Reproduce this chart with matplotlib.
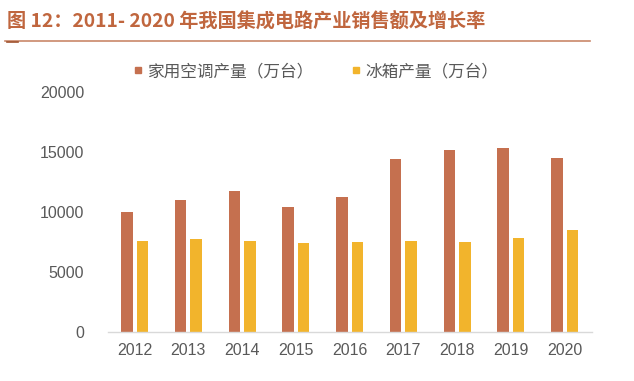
import numpy as np
from matplotlib import pyplot as plt
from matplotlib.lines import Line2D

years = ['2012', '2013', '2014', '2015', '2016', '2017', '2018', '2019', '2020']
aircon = [10000, 11000, 11780, 10420, 11230, 14450, 15150, 15350, 14510]
fridge = [7580, 7720, 7580, 7380, 7520, 7580, 7520, 7850, 8500]
series_names = ['家用空调产量（万台）', '冰箱产量（万台）']
title = '图 12：2011- 2020 年我国集成电路产业销售额及增长率'

c_ac = '#C5704F'
c_fr = '#F2B42C'
grey = '#595959'

plt.rcParams['font.family'] = ['Noto Sans CJK SC', 'DejaVu Sans']

fig = plt.figure(figsize=(6.34, 3.81), dpi=100)
ax = fig.add_axes([0.170, 0.129, 0.763, 0.629])

x = np.arange(len(years))
w = 0.215
ax.bar(x - 0.145, aircon, width=w, color=c_ac)
ax.bar(x + 0.145, fridge, width=w, color=c_fr)

ax.set_xlim(-0.5, len(years) - 0.5)
ax.set_ylim(0, 20000)
ax.set_yticks([0, 5000, 10000, 15000, 20000])
ax.set_xticks(x)
ax.set_xticklabels(years)
for lab in ax.get_xticklabels() + ax.get_yticklabels():
  lab.set_family(['Liberation Sans', 'DejaVu Sans'])
  lab.set_fontsize(11.5)
  lab.set_color(grey)
ax.tick_params(axis='both', length=0)
ax.tick_params(axis='y', pad=17)
ax.tick_params(axis='x', pad=8)
for s in ['top', 'right', 'left']:
  ax.spines[s].set_visible(False)
ax.spines['bottom'].set_color('#D9D9D9')
ax.spines['bottom'].set_linewidth(1.0)

handles = [Line2D([], [], marker='s', linestyle='none', color=c, markersize=5)
           for c in (c_ac, c_fr)]
leg = fig.legend(handles, series_names, loc='center', bbox_to_anchor=(0.498, 0.812),
                 ncol=2, frameon=False, fontsize=12, handlelength=0.6,
                 handletextpad=0.3, columnspacing=2.2)
for t in leg.get_texts():
  t.set_color(grey)

fig.text(0.011, 0.945, title, fontsize=13.8, fontweight='bold', color='#C0663E',
         ha='left', va='center')
fig.add_artist(Line2D([0.008, 0.930], [0.893, 0.893], color='#C9876A', linewidth=1.2))
fig.add_artist(Line2D([0.011, 0.028], [0.889, 0.889], color='#A0522D', linewidth=1.2))

fig.savefig('out.png', dpi=100)
